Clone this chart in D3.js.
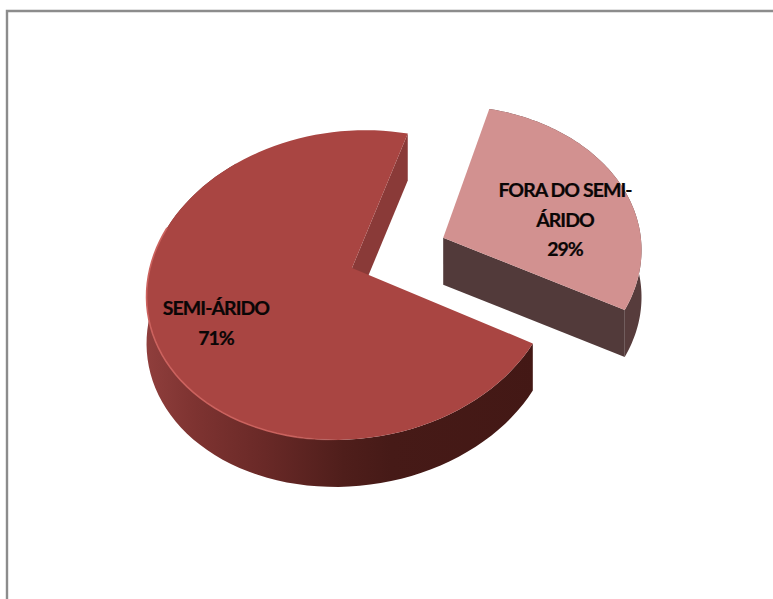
<!DOCTYPE html>
<html>
<head>
<meta charset="utf-8">
<script src="https://cdn.jsdelivr.net/npm/d3@7/dist/d3.min.js"></script>
<style>
html,body{margin:0;padding:0;background:#fff;overflow:hidden}
svg{display:block}
text{font-family:Lato,"Open Sans",sans-serif;font-weight:700;fill:#0a0606;stroke:#0a0606;stroke-width:0.22}
</style>
</head>
<body>
<svg id="chart" width="773" height="599"></svg>
<script>
// Share of municipalities inside and outside the semi-arid region
const categories = ["FORA DO SEMI-ÁRIDO", "SEMI-ÁRIDO"];
const values = [29, 71];
const labelLines = [["FORA DO SEMI-", "ÁRIDO", "29%"], ["SEMI-ÁRIDO", "71%"]];
const explode = [0.49, 0];

const svg = d3.select("#chart");
const defs = svg.append("defs");

// Tilted disc: unit-circle coordinates projected with a vertical vanishing term
const apex = {x: 352, y: 268};
const tilt = 0.11, skew = -15, depth = 47;
const scaleU = d3.scaleLinear().domain([-1, 1]).range([-202, 202]);
const scaleV = d3.scaleLinear().domain([-1, 1]).range([-153, 153]);
const project = (u, v) => {
  const w = 1 - tilt * v;
  return [apex.x + (scaleU(u) + skew * v) / w, apex.y + scaleV(v) / w];
};

const startDeg = 13.5;
const pie = d3.pie().sort(null).startAngle(startDeg * Math.PI / 180)
  .endAngle((360 + startDeg) * Math.PI / 180);
const arcs = pie(values);

const rim = (a0, a1, off) => d3.range(0, 97).map(i => {
  const a = a0 + (a1 - a0) * i / 96;
  return project(Math.sin(a) + off[0], -Math.cos(a) + off[1]);
});
const line = d3.line();
const drop = pts => pts.map(p => [p[0], p[1] + depth]);
const band = pts => line(pts.concat(drop(pts).reverse())) + "Z";

// Side shading of the large slice, dark toward the lit slice
const sideGrad = defs.append("linearGradient").attr("id", "side")
  .attr("gradientUnits", "userSpaceOnUse")
  .attr("x1", 147).attr("x2", 540).attr("y1", 0).attr("y2", 0);
[[0, "#8f3e3c"], [0.12, "#7e3331"], [0.3, "#692927"], [0.5, "#4f1e1b"], [0.62, "#461a17"], [1, "#431815"]]
  .forEach(s => sideGrad.append("stop").attr("offset", s[0]).attr("stop-color", s[1]));

// Thin bevel on the lower-left rim of the large slice
const bevelGrad = defs.append("linearGradient").attr("id", "bevel")
  .attr("gradientUnits", "userSpaceOnUse")
  .attr("x1", 147).attr("x2", 340).attr("y1", 0).attr("y2", 0);
[[0, "#cc625e", 1], [0.75, "#cc625e", 0.9], [1, "#cc625e", 0]]
  .forEach(s => bevelGrad.append("stop").attr("offset", s[0])
    .attr("stop-color", s[1]).attr("stop-opacity", s[2]));

const fills = [
  {top: "#d29190", side: "#573c3c", wall: "#523a3a"},
  {top: "#a94542", side: "url(#side)", wall: "#8a3a38"}
];

// Chart frame, open on the right and bottom
svg.append("path")
  .attr("d", line([[7, 599], [7, 11], [773, 11]]))
  .attr("fill", "none").attr("stroke", "#8c8c8c").attr("stroke-width", 2.4);

arcs.forEach((d, i) => {
  const mid = (d.startAngle + d.endAngle) / 2;
  const off = [Math.sin(mid) * explode[i], -Math.cos(mid) * explode[i]];
  const c = project(off[0], off[1]);
  const edge = rim(d.startAngle, d.endAngle, off);
  const g = svg.append("g").attr("class", "slice");

  if (i === 0) {
    // Outer side, then the cut face at the slice's far end
    g.append("path").attr("d", band(edge)).attr("fill", fills[i].side);
    g.append("path").attr("d", band([c, edge[96]])).attr("fill", fills[i].wall);
  } else {
    // Cut face at the start of the large slice, then its outer side
    g.append("path").attr("d", band([c, edge[96]])).attr("fill", fills[i].wall);
    g.append("path").attr("d", band(edge.slice(0, 76))).attr("fill", fills[i].side);
  }
  g.append("path").attr("d", line([c].concat(edge)) + "Z").attr("fill", fills[i].top);
  if (i === 1) {
    g.append("path").attr("d", line(edge.slice(0, 64)))
      .attr("fill", "none").attr("stroke", "url(#bevel)").attr("stroke-width", 1.6);
  }
});

// Data labels, one text line per row
const labelAnchors = [{x: 565, y: 197}, {x: 216, y: 315}];
labelLines.forEach((rows, i) => {
  const t = svg.append("text").attr("class", "label")
    .attr("text-anchor", "middle").attr("font-size", 19.5)
    .attr("letter-spacing", -0.95);
  rows.forEach((r, j) => {
    t.append("tspan").attr("x", labelAnchors[i].x)
      .attr("y", labelAnchors[i].y + j * 29.5).text(r);
  });
});
</script>
</body>
</html>
